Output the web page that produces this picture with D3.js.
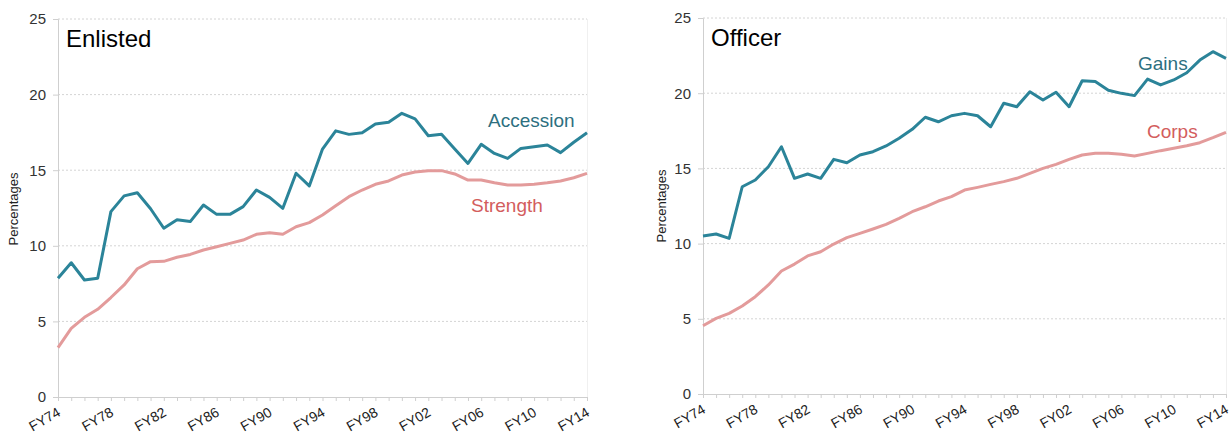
<!DOCTYPE html>
<html>
<head>
<meta charset="utf-8">
<script src="https://cdn.jsdelivr.net/npm/d3@7"></script>
<style>
  html, body { margin: 0; padding: 0; background: #fff; }
  svg { display: block; font-family: "Liberation Sans", Arial, Helvetica, sans-serif; }
</style>
</head>
<body>
<svg id="chart" width="1230" height="435"></svg>
<script>
// ---- Data ----
const years = d3.range(1974, 2015);
const yTicks = [0, 5, 10, 15, 20, 25];
const xTickLabels = ["FY74","FY78","FY82","FY86","FY90","FY94","FY98","FY02","FY06","FY10","FY14"];

const enlistedAccession = [7.85, 8.88, 7.74, 7.85, 12.26, 13.3, 13.51, 12.45, 11.16, 11.72, 11.6, 12.7, 12.08, 12.08, 12.59, 13.69, 13.2, 12.48, 14.8, 13.96, 16.4, 17.6, 17.37, 17.48, 18.06, 18.17, 18.76, 18.39, 17.28, 17.37, 16.4, 15.45, 16.71, 16.11, 15.78, 16.44, 16.55, 16.67, 16.16, 16.85, 17.48];
const enlistedStrength = [3.26, 4.54, 5.27, 5.8, 6.58, 7.41, 8.48, 8.95, 8.97, 9.24, 9.43, 9.72, 9.94, 10.16, 10.38, 10.76, 10.87, 10.76, 11.26, 11.53, 12.04, 12.65, 13.25, 13.69, 14.07, 14.29, 14.68, 14.88, 14.97, 14.97, 14.75, 14.35, 14.35, 14.17, 14.02, 14.02, 14.07, 14.17, 14.29, 14.5, 14.79];
const officerGains = [10.5, 10.64, 10.35, 13.78, 14.23, 15.11, 16.44, 14.34, 14.63, 14.34, 15.6, 15.38, 15.89, 16.11, 16.49, 17.0, 17.6, 18.4, 18.1, 18.5, 18.66, 18.5, 17.77, 19.33, 19.1, 20.1, 19.55, 20.06, 19.1, 20.83, 20.77, 20.2, 19.99, 19.84, 20.94, 20.55, 20.88, 21.36, 22.2, 22.76, 22.32];
const officerCorps = [4.54, 5.03, 5.36, 5.85, 6.47, 7.25, 8.18, 8.64, 9.18, 9.46, 9.97, 10.4, 10.68, 10.97, 11.28, 11.68, 12.12, 12.45, 12.83, 13.12, 13.56, 13.74, 13.94, 14.12, 14.34, 14.67, 15.0, 15.27, 15.6, 15.89, 16.0, 16.0, 15.94, 15.82, 16.0, 16.18, 16.34, 16.51, 16.71, 17.04, 17.4];

const panels = [
  { title: "Enlisted", top: enlistedAccession, bottom: enlistedStrength, topName: "Accession", bottomName: "Strength",
    x0: 58, x1: 587, y0: 397, y1: 19, titleX: 66, titleY: 47, ylabX: 18, ylabY: 209,
    topLabel: [488, 127], bottomLabel: [471, 212] },
  { title: "Officer", top: officerGains, bottom: officerCorps, topName: "Gains", bottomName: "Corps",
    x0: 703, x1: 1226, y0: 394, y1: 18, titleX: 711, titleY: 46, ylabX: 666, ylabY: 206,
    topLabel: [1138, 70], bottomLabel: [1147, 138] }
];

const TEAL = "#2b8499", TEAL_TXT = "#2d6f7f";
const PINK = "#e39b9b", PINK_TXT = "#d35d5d";

const svg = d3.select("#chart");

panels.forEach(p => {
  const x = d3.scaleLinear().domain([1974, 2014]).range([p.x0, p.x1]);
  const y = d3.scaleLinear().domain([0, 25]).range([p.y0, p.y1]);
  const g = svg.append("g");

  // gridlines
  g.selectAll(".grid").data(yTicks.filter(v => v > 0)).enter().append("line")
    .attr("x1", p.x0).attr("x2", p.x1)
    .attr("y1", d => y(d)).attr("y2", d => y(d))
    .attr("stroke", "#d4d4d4").attr("stroke-width", 1).attr("stroke-dasharray", "2,2");

  // right border faint
  g.append("line").attr("x1", p.x1 + 0.5).attr("x2", p.x1 + 0.5).attr("y1", y(25)).attr("y2", y(0))
    .attr("stroke", "#f0f0f0");

  // y axis
  const yAxis = d3.axisLeft(y).tickValues(yTicks).tickSize(5).tickPadding(7).tickFormat(d3.format("d"));
  const ya = g.append("g").attr("transform", `translate(${p.x0},0)`).call(yAxis);
  ya.select(".domain").attr("stroke", "#cfcfcf");
  ya.selectAll(".tick line").attr("stroke", "#cfcfcf");
  ya.selectAll(".tick text").attr("fill", "#333").style("font-size", "15px")
    .style("font-family", "'Liberation Sans', Arial, sans-serif");

  // x axis
  const xAxis = d3.axisBottom(x).tickValues(years).tickSize(4).tickSizeOuter(0)
    .tickFormat(d => { const lbl = "FY" + String(d).slice(2); return xTickLabels.includes(lbl) ? lbl : ""; });
  const xa = g.append("g").attr("transform", `translate(0,${p.y0})`).call(xAxis);
  xa.select(".domain").attr("stroke", "#cfcfcf");
  xa.selectAll(".tick line").attr("stroke", "#cfcfcf");
  xa.selectAll(".tick text").attr("fill", "#222").style("font-size", "14px")
    .style("font-family", "'Liberation Sans', Arial, sans-serif")
    .attr("text-anchor", "end").attr("y", 0).attr("dy", 0)
    .attr("transform", "translate(3,18) rotate(-30)");

  // lines
  const line = d3.line().x((d, i) => x(years[i])).y(d => y(d));
  g.append("path").datum(p.bottom).attr("d", line).attr("fill", "none")
    .attr("stroke", PINK).attr("stroke-width", 3).attr("stroke-linejoin", "round");
  g.append("path").datum(p.top).attr("d", line).attr("fill", "none")
    .attr("stroke", TEAL).attr("stroke-width", 3).attr("stroke-linejoin", "round");

  // title
  g.append("text").attr("x", p.titleX).attr("y", p.titleY).text(p.title)
    .attr("fill", "#000").style("font-size", "24px");

  // y label
  g.append("text").attr("transform", `translate(${p.ylabX},${p.ylabY}) rotate(-90)`)
    .attr("text-anchor", "middle").text("Percentages").attr("fill", "#222").style("font-size", "13px");

  // series labels
  g.append("text").attr("x", p.topLabel[0]).attr("y", p.topLabel[1]).text(p.topName)
    .attr("fill", TEAL_TXT).style("font-size", "19px");
  g.append("text").attr("x", p.bottomLabel[0]).attr("y", p.bottomLabel[1]).text(p.bottomName)
    .attr("fill", PINK_TXT).style("font-size", "19px");
});
</script>
</body>
</html>
